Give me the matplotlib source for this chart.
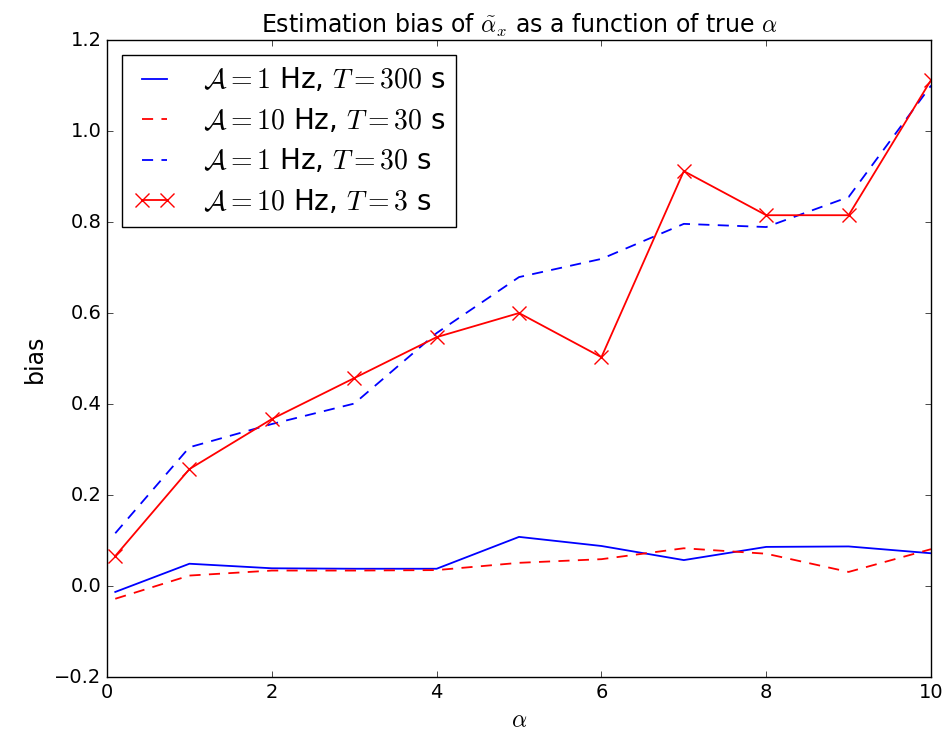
import numpy as np
import matplotlib
matplotlib.use("Agg")
import matplotlib.pyplot as plt

plt.style.use("classic")

# true alpha values
alpha = [0.1, 1, 2, 3, 4, 5, 6, 7, 8, 9, 10]

# estimation bias for each setting
bias_A1_T300 = [-0.013, 0.049, 0.039, 0.038, 0.038, 0.108, 0.088, 0.057, 0.086, 0.087, 0.072]
bias_A10_T30 = [-0.028, 0.023, 0.034, 0.034, 0.035, 0.051, 0.059, 0.083, 0.071, 0.031, 0.081]
bias_A1_T30 = [0.116, 0.305, 0.356, 0.401, 0.556, 0.679, 0.719, 0.796, 0.789, 0.855, 1.100]
bias_A10_T3 = [0.066, 0.257, 0.367, 0.457, 0.547, 0.600, 0.503, 0.912, 0.815, 0.815, 1.112]

labels = [r"$\mathcal{A}=1$ Hz, $T=300$ s",
          r"$\mathcal{A}=10$ Hz, $T=30$ s",
          r"$\mathcal{A}=1$ Hz, $T=30$ s",
          r"$\mathcal{A}=10$ Hz, $T=3$ s"]

fig = plt.figure(figsize=(9.48, 7.43), dpi=100, facecolor="white")
ax = fig.add_axes([0.1129, 0.0888, 0.8692, 0.8573])

lw = 1.3
dash = (8, 6)
ax.plot(alpha, bias_A1_T300, "b-", lw=lw, label=labels[0])
ax.plot(alpha, bias_A10_T30, "r--", lw=lw, dashes=dash, label=labels[1])
ax.plot(alpha, bias_A1_T30, "b--", lw=lw, dashes=dash, label=labels[2])
ax.plot(alpha, bias_A10_T3, "r-x", lw=lw, markersize=10, mew=1.0, label=labels[3])

ax.set_xlim(0, 10)
ax.set_ylim(-0.2, 1.2)
ax.tick_params(labelsize=14)
ax.set_title(r"Estimation bias of $\tilde{\alpha}_x$ as a function of true $\alpha$", fontsize=17)
ax.set_xlabel(r"$\alpha$", fontsize=17)
ax.set_ylabel("bias", fontsize=17)
ax.legend(loc="upper left", fontsize=20, numpoints=2, handlelength=1.5,
          handletextpad=1.0, labelspacing=0.45, borderaxespad=0.55)

fig.savefig("out.png", dpi=100, facecolor="white")
